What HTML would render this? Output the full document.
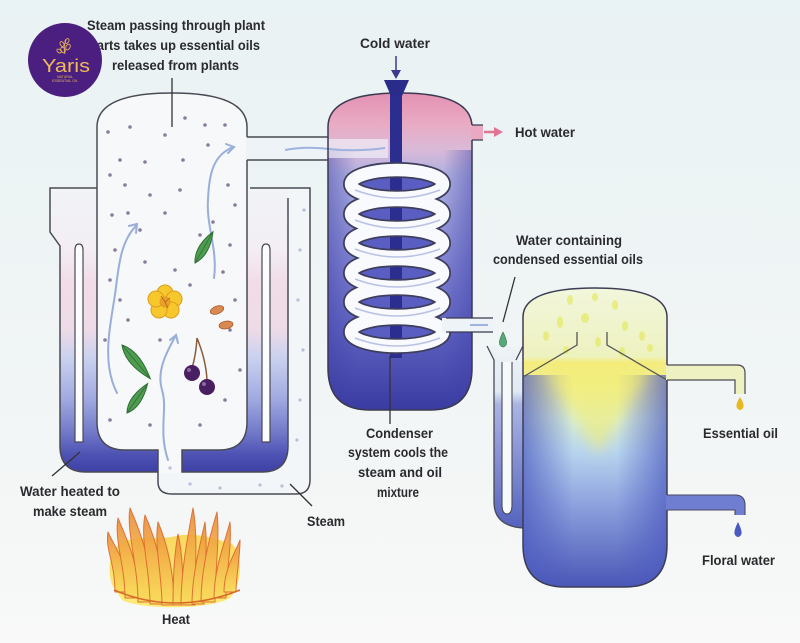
<!DOCTYPE html>
<html><head><meta charset="utf-8">
<style>
html,body{margin:0;padding:0;background:#eef4f5;}
svg{display:block}
.t{font-family:"Liberation Sans",sans-serif;font-weight:bold;fill:#2a2a2e;font-size:14px;}
</style></head><body>
<svg width="800" height="643" viewBox="0 0 800 643" xmlns="http://www.w3.org/2000/svg">
<defs>
<linearGradient id="bg" x1="0" y1="0" x2="0" y2="1">
<stop offset="0" stop-color="#e9f2f4"/><stop offset="0.6" stop-color="#f1f5f5"/><stop offset="1" stop-color="#f8f9f8"/>
</linearGradient>
<linearGradient id="wj" gradientUnits="userSpaceOnUse" x1="0" y1="188" x2="0" y2="472">
<stop offset="0" stop-color="#f1f3f7"/>
<stop offset="0.22" stop-color="#f3eef3"/>
<stop offset="0.33" stop-color="#f1dde7"/>
<stop offset="0.5" stop-color="#eddbe7"/>
<stop offset="0.6" stop-color="#c9d1ef"/>
<stop offset="0.74" stop-color="#a1abe0"/>
<stop offset="0.85" stop-color="#767ecb"/>
<stop offset="0.94" stop-color="#4d52b3"/>
<stop offset="1" stop-color="#3e41a5"/>
</linearGradient>
<linearGradient id="cd" gradientUnits="userSpaceOnUse" x1="0" y1="93" x2="0" y2="410">
<stop offset="0" stop-color="#e391b2"/>
<stop offset="0.1" stop-color="#e9abc3"/>
<stop offset="0.18" stop-color="#d9bad8"/>
<stop offset="0.26" stop-color="#aeb0e0"/>
<stop offset="0.5" stop-color="#8588d3"/>
<stop offset="0.75" stop-color="#5e61c0"/>
<stop offset="1" stop-color="#3a3ba1"/>
</linearGradient>
<linearGradient id="cdside" gradientUnits="userSpaceOnUse" x1="328" y1="0" x2="472" y2="0">
<stop offset="0" stop-color="#3c3ea6" stop-opacity="0.45"/>
<stop offset="0.2" stop-color="#3c3ea6" stop-opacity="0"/>
<stop offset="0.8" stop-color="#3c3ea6" stop-opacity="0"/>
<stop offset="1" stop-color="#3c3ea6" stop-opacity="0.45"/>
</linearGradient>
<linearGradient id="sp" gradientUnits="userSpaceOnUse" x1="0" y1="288" x2="0" y2="587">
<stop offset="0" stop-color="#f2f6dc"/>
<stop offset="0.23" stop-color="#eef2bf"/>
<stop offset="0.25" stop-color="#f4ec7c"/>
<stop offset="0.33" stop-color="#f0ee9c"/>
<stop offset="0.44" stop-color="#d6ecd8"/>
<stop offset="0.55" stop-color="#b7d4ee"/>
<stop offset="0.72" stop-color="#8ea3de"/>
<stop offset="1" stop-color="#4b56b6"/>
</linearGradient>
<linearGradient id="spside" gradientUnits="userSpaceOnUse" x1="523" y1="0" x2="667" y2="0">
<stop offset="0" stop-color="#4a58bf" stop-opacity="0.7"/>
<stop offset="0.35" stop-color="#4a58bf" stop-opacity="0"/>
<stop offset="0.65" stop-color="#4a58bf" stop-opacity="0"/>
<stop offset="1" stop-color="#4a58bf" stop-opacity="0.7"/>
</linearGradient>
<linearGradient id="tube" gradientUnits="userSpaceOnUse" x1="0" y1="346" x2="0" y2="528">
<stop offset="0" stop-color="#eef3f5"/>
<stop offset="0.25" stop-color="#e0e9f4"/>
<stop offset="0.32" stop-color="#aab5e3"/>
<stop offset="1" stop-color="#5462be"/>
</linearGradient>
<linearGradient id="fl" x1="0" y1="0" x2="0" y2="1">
<stop offset="0" stop-color="#ec8a38"/>
<stop offset="0.5" stop-color="#f4b54a"/>
<stop offset="1" stop-color="#f9dc5a"/>
</linearGradient>
<linearGradient id="fb" x1="0" y1="0" x2="0" y2="1">
<stop offset="0" stop-color="#f9d860"/>
<stop offset="1" stop-color="#fcec7a"/>
</linearGradient>
<filter id="blur" x="-50%" y="-50%" width="200%" height="200%"><feGaussianBlur stdDeviation="7"/></filter>
<clipPath id="spclip"><path d="M523,317 Q523,288 595,288 Q667,288 667,317 V545 Q667,587 625,587 H565 Q523,587 523,545 Z"/></clipPath>
<clipPath id="cdclip"><path d="M328,127 Q328,93 400,93 Q472,93 472,127 V368 Q472,410 430,410 H370 Q328,410 328,368 Z"/></clipPath>
</defs>

<rect x="0" y="0" width="800" height="643" fill="url(#bg)"/>

<!-- ============ BOILER ============ -->
<path d="M288,188 H310 V480 Q310,494 296,494 H172 Q158,494 158,480 V472 H288 Z" fill="#f3f6f9"/>
<path d="M50,188 H288 V446 Q288,472 262,472 H86 Q60,472 60,446 V246 L50,232 Z" fill="url(#wj)"/>
<path d="M97,127 Q97,93 172,93 Q247,93 247,127 V422 Q247,450 219,450 H182 V473 H158 V450 H125 Q97,450 97,422 Z" fill="#f6f8f9"/>
<g fill="none" stroke="#4a4a55" stroke-width="1.5">
<path d="M250,188 H310 V480 Q310,494 296,494 H172 Q158,494 158,482 V450 H125 Q97,450 97,422 V127 Q97,93 172,93 Q247,93 247,127 V422 Q247,450 219,450 H182 V472 H262 Q288,472 288,446 V198"/>
<path d="M97,188 H50 V232 L60,246 V446 Q60,472 86,472 H158"/>
</g>
<path d="M75,442 V250 Q75,244 79,244 Q83,244 83,250 V442 Z" fill="#fbfcfd" stroke="#4a4a55" stroke-width="1.2"/>
<path d="M262,442 V250 Q262,244 266,244 Q270,244 270,250 V442 Z" fill="#fbfcfd" stroke="#4a4a55" stroke-width="1.2"/>

<g fill="#8a7c9c">
<circle cx="108" cy="132" r="1.8"/><circle cx="130" cy="127" r="1.8"/><circle cx="165" cy="135" r="1.8"/><circle cx="185" cy="118" r="1.8"/><circle cx="205" cy="125" r="1.8"/><circle cx="225" cy="125" r="1.8"/><circle cx="120" cy="160" r="1.8"/><circle cx="145" cy="162" r="1.8"/><circle cx="183" cy="160" r="1.8"/><circle cx="208" cy="145" r="1.8"/><circle cx="228" cy="185" r="1.8"/><circle cx="235" cy="205" r="1.8"/><circle cx="110" cy="175" r="1.8"/><circle cx="125" cy="185" r="1.8"/><circle cx="150" cy="195" r="1.8"/><circle cx="165" cy="213" r="1.8"/><circle cx="180" cy="190" r="1.8"/><circle cx="200" cy="235" r="1.8"/><circle cx="112" cy="215" r="1.8"/><circle cx="140" cy="230" r="1.8"/><circle cx="128" cy="213" r="1.8"/><circle cx="230" cy="245" r="1.8"/><circle cx="115" cy="250" r="1.8"/><circle cx="145" cy="262" r="1.8"/><circle cx="175" cy="270" r="1.8"/><circle cx="223" cy="272" r="1.8"/><circle cx="110" cy="280" r="1.8"/><circle cx="235" cy="300" r="1.8"/><circle cx="128" cy="320" r="1.8"/><circle cx="160" cy="340" r="1.8"/><circle cx="230" cy="330" r="1.8"/><circle cx="105" cy="340" r="1.8"/><circle cx="225" cy="400" r="1.8"/><circle cx="110" cy="420" r="1.8"/><circle cx="150" cy="425" r="1.8"/><circle cx="200" cy="425" r="1.8"/><circle cx="240" cy="370" r="1.8"/><circle cx="120" cy="300" r="1.8"/><circle cx="190" cy="285" r="1.8"/><circle cx="213" cy="222" r="1.8"/>
</g>
<g fill="#b5c0d6">
<circle cx="300" cy="250" r="1.6"/><circle cx="298" cy="300" r="1.6"/><circle cx="303" cy="350" r="1.6"/><circle cx="300" cy="400" r="1.6"/><circle cx="297" cy="440" r="1.6"/><circle cx="260" cy="485" r="1.6"/><circle cx="220" cy="488" r="1.6"/><circle cx="190" cy="484" r="1.6"/><circle cx="170" cy="468" r="1.6"/><circle cx="282" cy="486" r="1.6"/><circle cx="304" cy="210" r="1.6"/>
</g>

<g fill="none" stroke="#9aaedb" stroke-width="2" stroke-linecap="round">
<path d="M117,393 C100,360 112,320 116,287 C119,262 122,240 136,226"/>
<path d="M129,226 L137,224 L136,233"/>
<path d="M168,460 C158,430 168,410 162,390 C156,370 168,350 175,337"/>
<path d="M170,340 L176,335 L178,343"/>
<path d="M214,278 C218,250 206,225 208,200 C209,172 214,155 233,147"/>
<path d="M226,144 L234,147 L228,153"/>
</g>

<g transform="translate(195,263) rotate(-60)">
<path d="M0,0 Q14,-9 36,0 Q14,9 0,0 Z" fill="#4e9c50" stroke="#2e6e34" stroke-width="1"/>
<path d="M0,0 L34,0" stroke="#2e6e34" stroke-width="0.8"/>
</g>
<g transform="translate(122,345) rotate(50)">
<path d="M0,0 Q16,-10 44,0 Q16,10 0,0 Z" fill="#4e9c50" stroke="#2e6e34" stroke-width="1"/>
<path d="M0,0 L42,0" stroke="#2e6e34" stroke-width="0.8"/>
</g>
<g transform="translate(127,413) rotate(-55)">
<path d="M0,0 Q13,-9 36,0 Q13,9 0,0 Z" fill="#4e9c50" stroke="#2e6e34" stroke-width="1"/>
<path d="M0,0 L34,0" stroke="#2e6e34" stroke-width="0.8"/>
</g>
<g transform="translate(165,302)" fill="#f6c82c" stroke="#e09c1e" stroke-width="1">
<circle cx="0" cy="-9" r="8"/><circle cx="9" cy="-3" r="8"/><circle cx="6" cy="8" r="8"/><circle cx="-6" cy="8" r="8"/><circle cx="-9" cy="-3" r="8"/>
<circle cx="0" cy="0" r="5" fill="#e8a22a"/>
<path d="M0,0 L-4,-6 M0,0 L5,-4 M0,0 L3,6" stroke="#c06a1a"/>
</g>
<ellipse cx="217" cy="310" rx="7" ry="3.8" transform="rotate(-20 217 310)" fill="#d98a52" stroke="#a8582a" stroke-width="0.8"/>
<ellipse cx="226" cy="325" rx="7" ry="3.8" transform="rotate(-10 226 325)" fill="#d98a52" stroke="#a8582a" stroke-width="0.8"/>
<path d="M197,338 Q196,355 192,368 M197,338 Q206,360 207,380" stroke="#8a5a3a" stroke-width="1.5" fill="none"/>
<circle cx="192" cy="373" r="8" fill="#4a1f62"/>
<circle cx="207" cy="387" r="8" fill="#4a1f62"/>
<circle cx="189" cy="370" r="2" fill="#8a6aa0"/>
<circle cx="204" cy="384" r="2" fill="#8a6aa0"/>

<rect x="246" y="137" width="84" height="23" fill="#eef3f8"/>
<path d="M247,137 H330 M247,160 H330" stroke="#4a4a55" stroke-width="1.5"/>

<!-- ============ CONDENSER ============ -->
<path d="M328,127 Q328,93 400,93 Q472,93 472,127 V368 Q472,410 430,410 H370 Q328,410 328,368 Z" fill="url(#cd)"/>
<rect x="328" y="150" width="144" height="260" fill="url(#cdside)" clip-path="url(#cdclip)"/>
<rect x="328" y="139" width="60" height="19" fill="#f1eef6" opacity="0.7"/>
<path d="M285,150 Q305,146 330,149 Q355,152 385,148" stroke="#9fb2e0" stroke-width="2" fill="none"/>
<path d="M328,127 Q328,93 400,93 Q472,93 472,127 V368 Q472,410 430,410 H370 Q328,410 328,368 Z" fill="none" stroke="#3a3a50" stroke-width="1.5"/>
<rect x="471" y="125" width="12" height="15" fill="#eaa9c1"/>
<path d="M472,125 H483 M472,140 H483" stroke="#3a3a50" stroke-width="1.2"/>
<path d="M484,132 H496" stroke="#e27494" stroke-width="2.5"/>
<polygon points="494,127 503,132 494,137" fill="#e27494"/>
<g fill="#5a5ec2">
<ellipse cx="397" cy="184" rx="38" ry="8"/>
<ellipse cx="397" cy="214" rx="38" ry="8"/>
<ellipse cx="397" cy="243" rx="38" ry="8"/>
<ellipse cx="397" cy="273" rx="38" ry="8"/>
<ellipse cx="397" cy="302" rx="38" ry="8"/>
<ellipse cx="397" cy="332" rx="38" ry="8"/>
</g>
<rect x="390" y="90" width="12" height="268" fill="#2b2d8f"/>
<polygon points="384,80 409,80 402,96 391,96" fill="#2a2c8c"/>
<path d="M396,56 V73" stroke="#3a3a90" stroke-width="1.5"/>
<polygon points="391,70 396,79 401,70" fill="#3a3a90"/>
<g fill="none">
<g stroke="#3d3d5c" stroke-width="16">
<ellipse cx="397" cy="184" rx="46" ry="14"/>
<ellipse cx="397" cy="214" rx="46" ry="14"/>
<ellipse cx="397" cy="243" rx="46" ry="14"/>
<ellipse cx="397" cy="273" rx="46" ry="14"/>
<ellipse cx="397" cy="302" rx="46" ry="14"/>
<ellipse cx="397" cy="332" rx="46" ry="14"/>
</g>
<g stroke="#f9fafd" stroke-width="12.5">
<ellipse cx="397" cy="184" rx="46" ry="14"/>
<ellipse cx="397" cy="214" rx="46" ry="14"/>
<ellipse cx="397" cy="243" rx="46" ry="14"/>
<ellipse cx="397" cy="273" rx="46" ry="14"/>
<ellipse cx="397" cy="302" rx="46" ry="14"/>
<ellipse cx="397" cy="332" rx="46" ry="14"/>
</g>
<g stroke="#b8c2e6" stroke-width="1.5">
<path d="M355,190 Q397,206 440,190"/>
<path d="M355,220 Q397,236 440,220"/>
<path d="M355,249 Q397,265 440,249"/>
<path d="M355,279 Q397,295 440,279"/>
<path d="M355,308 Q397,324 440,308"/>
<path d="M355,338 Q397,354 440,338"/>
</g>
</g>
<rect x="442" y="318" width="51" height="14" fill="#eef3f8"/>
<path d="M446,318 H493 M446,332 H493" stroke="#3a3a50" stroke-width="1.3"/>
<path d="M470,325 H488" stroke="#9fb2e0" stroke-width="2"/>
<path d="M390,356 V424" stroke="#333" stroke-width="1.3"/>

<!-- ============ SEPARATOR ============ -->
<path d="M487,346 L494,360 V502 Q494,526 523,528 V362 L516,360 L523,346 Z" fill="url(#tube)"/>
<path d="M487,346 L494,360 V502 Q494,526 523,528" fill="none" stroke="#4a4a55" stroke-width="1.3"/>
<path d="M523,346 L516,360" fill="none" stroke="#4a4a55" stroke-width="1.3"/>
<path d="M502,362 V505 Q502,514 507,514 Q512,514 512,505 V362" fill="#f7fafb" stroke="#4a4a55" stroke-width="1.1"/>
<path d="M523,317 Q523,288 595,288 Q667,288 667,317 V545 Q667,587 625,587 H565 Q523,587 523,545 Z" fill="url(#sp)"/>
<g clip-path="url(#spclip)">
<rect x="523" y="375" width="144" height="215" fill="url(#spside)"/>
<polygon points="545,368 650,368 598,455" fill="#f3ee70" opacity="0.6" filter="url(#blur)"/>
<g fill="#e5ea6a" opacity="0.75">
<ellipse cx="570" cy="300" rx="3" ry="5"/><ellipse cx="595" cy="297" rx="3" ry="4"/><ellipse cx="615" cy="305" rx="3" ry="5"/><ellipse cx="560" cy="322" rx="3" ry="6"/><ellipse cx="585" cy="318" rx="4" ry="5"/><ellipse cx="625" cy="326" rx="3" ry="5"/><ellipse cx="642" cy="336" rx="3" ry="5"/><ellipse cx="546" cy="336" rx="3" ry="5"/><ellipse cx="598" cy="342" rx="3" ry="5"/><ellipse cx="650" cy="348" rx="3" ry="4"/><ellipse cx="566" cy="350" rx="3" ry="4"/><ellipse cx="622" cy="352" rx="3" ry="5"/>
</g>
</g>
<path d="M523,317 Q523,288 595,288 Q667,288 667,317 V545 Q667,587 625,587 H565 Q523,587 523,545 Z" fill="none" stroke="#3d3d55" stroke-width="1.5"/>
<path d="M523,377 L577,345 V332 M607,332 V345 L667,380" fill="none" stroke="#555" stroke-width="1.3"/>
<path d="M666,365 H737 Q745,365 745,373 V394 H735 V380 H666 Z" fill="#eef2c2"/>
<path d="M667,365 H737 Q745,365 745,373 V394 M735,394 V380 H667" fill="none" stroke="#4a4a55" stroke-width="1.2"/>
<path d="M740,397 Q735,405 737,408 Q740,412 743,408 Q745,405 740,397 Z" fill="#e8b820"/>
<path d="M666,495 H735 Q745,495 745,505 V515 H735 V510 H666 Z" fill="#6f7ed0"/>
<path d="M667,495 H735 Q745,495 745,505 V515 M735,515 V510 H667" fill="none" stroke="#4a4a60" stroke-width="1.1"/>
<path d="M738,522 Q733,532 735,535 Q738,539 741,535 Q743,532 738,522 Z" fill="#4a5ac0"/>
<path d="M503,332 Q498,342 500,345 Q503,349 506,345 Q508,342 503,332 Z" fill="#5aa87a" stroke="#2e6e56" stroke-width="0.6"/>
<path d="M515,277 L503,322" stroke="#333" stroke-width="1.3"/>

<!-- ============ FIRE ============ -->
<path d="M112,585 C106,565 112,548 122,542 C140,535 160,540 176,536 C195,532 215,538 232,544 C244,555 242,585 230,598 C210,610 140,610 122,600 Z" fill="url(#fb)"/>
<g fill="url(#fl)" stroke="#d9652a" stroke-width="1" stroke-linejoin="round" opacity="0.9">
<path d="M115,592 C115,562 105,550 108,532 C116,550 129,565 129,592 Z"/>
<path d="M125,598 C125,565 114,540 118,518 C128,542 139,565 139,598 Z"/>
<path d="M138,602 C138,565 126,530 130,508 C142,535 152,565 152,602 Z"/>
<path d="M150,604 C150,570 140,540 145,515 C156,540 164,570 164,604 Z"/>
<path d="M162,605 C162,575 154,545 158,522 C168,545 174,575 174,605 Z"/>
<path d="M173,605 C173,580 174,555 178,534 C183,555 183,580 183,605 Z"/>
<path d="M181,605 C181,570 188,535 193,508 C198,535 195,570 195,605 Z"/>
<path d="M192,604 C192,575 200,545 205,522 C208,548 204,575 204,604 Z"/>
<path d="M201,602 C201,570 210,535 217,512 C220,540 215,570 215,602 Z"/>
<path d="M214,598 C214,570 224,545 230,522 C232,548 226,572 226,598 Z"/>
<path d="M224,592 C224,570 234,555 240,540 C240,560 236,575 236,592 Z"/>
</g>
<path d="M114,590 Q175,616 240,590" fill="none" stroke="#d8692a" stroke-width="1.5"/>

<!-- ============ LABEL LINES ============ -->
<path d="M172,78 V127" stroke="#333" stroke-width="1.3"/>
<path d="M52,476 L80,452" stroke="#333" stroke-width="1.3"/>
<path d="M290,484 L312,506" stroke="#333" stroke-width="1.3"/>

<!-- ============ TEXT ============ -->
<text class="t" x="87" y="30" textLength="178" lengthAdjust="spacingAndGlyphs">Steam passing through plant</text>
<text class="t" x="89" y="50" textLength="171" lengthAdjust="spacingAndGlyphs">parts takes up essential oils</text>
<text class="t" x="112" y="70" textLength="127" lengthAdjust="spacingAndGlyphs">released from plants</text>
<text class="t" x="360" y="48" textLength="70" lengthAdjust="spacingAndGlyphs">Cold water</text>
<text class="t" x="515" y="137" textLength="60" lengthAdjust="spacingAndGlyphs">Hot water</text>
<text class="t" x="516" y="245" textLength="106" lengthAdjust="spacingAndGlyphs">Water containing</text>
<text class="t" x="493" y="264" textLength="150" lengthAdjust="spacingAndGlyphs">condensed essential oils</text>
<text class="t" x="366" y="438" textLength="67" lengthAdjust="spacingAndGlyphs">Condenser</text>
<text class="t" x="348" y="457" textLength="100" lengthAdjust="spacingAndGlyphs">system cools the</text>
<text class="t" x="358" y="477" textLength="84" lengthAdjust="spacingAndGlyphs">steam and oil</text>
<text class="t" x="377" y="497" textLength="42" lengthAdjust="spacingAndGlyphs">mixture</text>
<text class="t" x="20" y="496" textLength="100" lengthAdjust="spacingAndGlyphs">Water heated to</text>
<text class="t" x="33" y="516" textLength="74" lengthAdjust="spacingAndGlyphs">make steam</text>
<text class="t" x="307" y="526" textLength="38" lengthAdjust="spacingAndGlyphs">Steam</text>
<text class="t" x="162" y="624" textLength="28" lengthAdjust="spacingAndGlyphs">Heat</text>
<text class="t" x="703" y="438" textLength="75" lengthAdjust="spacingAndGlyphs">Essential oil</text>
<text class="t" x="702" y="565" textLength="73" lengthAdjust="spacingAndGlyphs">Floral water</text>

<!-- ============ LOGO ============ -->
<circle cx="65" cy="60" r="37" fill="#4b1f7f"/>
<g fill="none" stroke="#e6b45c" stroke-width="0.9">
<path d="M65,54 Q63,48 66,40"/>
<ellipse cx="63" cy="50" rx="2" ry="3" transform="rotate(-30 63 50)"/>
<ellipse cx="68" cy="47" rx="2" ry="3" transform="rotate(30 68 47)"/>
<ellipse cx="62" cy="44" rx="1.8" ry="2.6" transform="rotate(-30 62 44)"/>
<ellipse cx="67" cy="41" rx="1.8" ry="2.6" transform="rotate(30 67 41)"/>
<ellipse cx="59" cy="51" rx="1.6" ry="2.4" transform="rotate(-50 59 51)"/>
</g>
<text x="42" y="72" textLength="48" lengthAdjust="spacingAndGlyphs" style="font-family:'Liberation Sans',sans-serif;font-size:18px;fill:#efb95c;">Yaris</text>
<text x="65" y="78" text-anchor="middle" style="font-family:'Liberation Sans',sans-serif;font-size:3.5px;fill:#e6b45c;">NATURAL</text>
<text x="65" y="82" text-anchor="middle" style="font-family:'Liberation Sans',sans-serif;font-size:3.5px;fill:#e6b45c;">ESSENTIAL OIL</text>
</svg>
</body></html>
